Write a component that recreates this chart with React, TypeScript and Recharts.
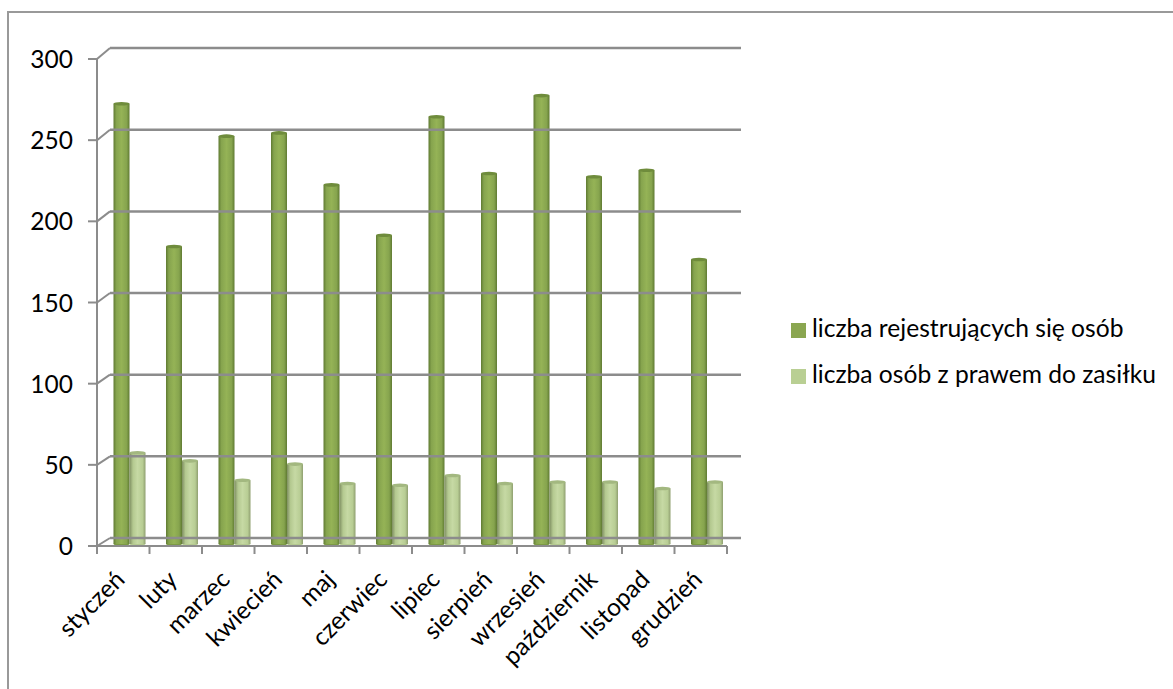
import { BarChart, Bar, XAxis, YAxis, Legend } from 'recharts';

const months = ['styczeń', 'luty', 'marzec', 'kwiecień', 'maj', 'czerwiec', 'lipiec', 'sierpień', 'wrzesień', 'październik', 'listopad', 'grudzień'];
const registered = [270, 182, 250, 252, 220, 189, 262, 227, 275, 225, 229, 174];
const withBenefit = [55, 50, 38, 48, 36, 35, 41, 36, 37, 37, 33, 37];
const yTicks = [0, 50, 100, 150, 200, 250, 300];

const data = months.map((name, i) => ({ name, registered: registered[i], withBenefit: withBenefit[i] }));

const FONT = 'Lato, sans-serif';
const LEFT = 97;
const RIGHT = 727;
const TOP = 59;
const BOTTOM = 546;
const BAND = (RIGHT - LEFT) / 12;
const AXIS = '#8c8c8c';

// fake 3d: bars sit a little behind the front of the floor
const DEPTH_X = 6.5;
const DEPTH_Y = 4;

function Cylinder(props: any) {
    const { x, y, width, height, grad, cap, base } = props;
    const rx = width / 2;
    const px = x + DEPTH_X;
    const py = y - DEPTH_Y;
    // keep the foot on the floor, only the top is lifted
    const h = height + DEPTH_Y - 2;
    return (
        <g>
            <ellipse cx={px + rx} cy={py + h} rx={rx} ry={1.8} fill={base} />
            <rect x={px} y={py} width={width} height={h} fill={`url(#${grad})`} />
            <ellipse cx={px + rx} cy={py} rx={rx} ry={1.8} fill={cap} />
        </g>
    );
}

function YTick(props: any) {
    const { y, payload } = props;
    const wallY = y - 8 - (BOTTOM - y) * 0.006;
    return (
        <g>
            <line x1={LEFT - 9} x2={LEFT} y1={y} y2={y} stroke={AXIS} strokeWidth={2} />
            <line x1={LEFT} x2={LEFT + 13} y1={y} y2={wallY} stroke={AXIS} strokeWidth={2} />
            <line x1={LEFT + 13} x2={RIGHT + 14} y1={wallY} y2={wallY} stroke={AXIS} strokeWidth={2.5} />
            <text x={LEFT - 24} y={y + 9} textAnchor="end" fontFamily={FONT} fontSize={24.5} fill="#000">
                {payload.value}
            </text>
        </g>
    );
}

function XTick(props: any) {
    const { x, payload, index } = props;
    const tx = x + 3;
    const ty = BOTTOM + 35;
    return (
        <g>
            <line x1={x - BAND / 2} x2={x - BAND / 2} y1={BOTTOM} y2={BOTTOM + 8} stroke={AXIS} strokeWidth={2} />
            {index === months.length - 1 && (
                <line x1={x + BAND / 2} x2={x + BAND / 2} y1={BOTTOM} y2={BOTTOM + 8} stroke={AXIS} strokeWidth={2} />
            )}
            <text x={tx} y={ty} textAnchor="end" fontFamily={FONT} fontSize={24.5} fill="#000" transform={`rotate(-45 ${tx} ${ty})`}>
                {payload.value}
            </text>
        </g>
    );
}

export default function App() {
    return (
        <div style={{ position: 'absolute', left: 0, top: 0, width: 1173, height: 689, background: '#fff', overflow: 'hidden' }}>
            <div style={{ position: 'absolute', left: 7, top: 11, width: 1300, height: 800, border: '2px solid #999999', boxSizing: 'border-box' }} />
            <BarChart
                width={1173}
                height={689}
                data={data}
                barSize={16}
                barGap={0}
                margin={{ top: TOP, right: 1173 - RIGHT, bottom: 689 - BOTTOM - 60, left: LEFT - 60 }}
            >
                <defs>
                    <linearGradient id="darkCyl" x1="0" y1="0" x2="1" y2="0">
                        <stop offset="0%" stopColor="#5f7a32" />
                        <stop offset="18%" stopColor="#86a44e" />
                        <stop offset="50%" stopColor="#95b356" />
                        <stop offset="82%" stopColor="#86a44e" />
                        <stop offset="100%" stopColor="#5f7a32" />
                    </linearGradient>
                    <linearGradient id="lightCyl" x1="0" y1="0" x2="1" y2="0">
                        <stop offset="0%" stopColor="#7f8f62" />
                        <stop offset="22%" stopColor="#b4c990" />
                        <stop offset="50%" stopColor="#c6d9a4" />
                        <stop offset="82%" stopColor="#b8cd94" />
                        <stop offset="100%" stopColor="#8f9f70" />
                    </linearGradient>
                </defs>
                <XAxis
                    dataKey="name"
                    interval={0}
                    height={60}
                    axisLine={{ stroke: AXIS, strokeWidth: 2 }}
                    tickLine={false}
                    tick={<XTick />}
                />
                <YAxis
                    width={60}
                    domain={[0, 300]}
                    ticks={yTicks}
                    axisLine={{ stroke: AXIS, strokeWidth: 2 }}
                    tickLine={false}
                    tick={<YTick />}
                />
                <Legend
                    layout="vertical"
                    align="center"
                    verticalAlign="middle"
                    iconType="square"
                    iconSize={15}
                    itemSorter={null}
                    wrapperStyle={{ left: 791, top: 305, width: 380, fontFamily: FONT, fontSize: 24.6, lineHeight: '46px', whiteSpace: 'nowrap' }}
                    formatter={(value: string) => <span style={{ color: '#000', marginLeft: 2 }}>{value}</span>}
                />
                <Bar
                    dataKey="registered"
                    name="liczba rejestrujących się osób"
                    fill="#8aa650"
                    isAnimationActive={false}
                    shape={<Cylinder grad="darkCyl" cap="#6f8c3c" base="#7c9a45" />}
                />
                <Bar
                    dataKey="withBenefit"
                    name="liczba osób z prawem do zasiłku"
                    fill="#b9cf93"
                    isAnimationActive={false}
                    shape={<Cylinder grad="lightCyl" cap="#a3b880" base="#b4c990" />}
                />
            </BarChart>
        </div>
    );
}
